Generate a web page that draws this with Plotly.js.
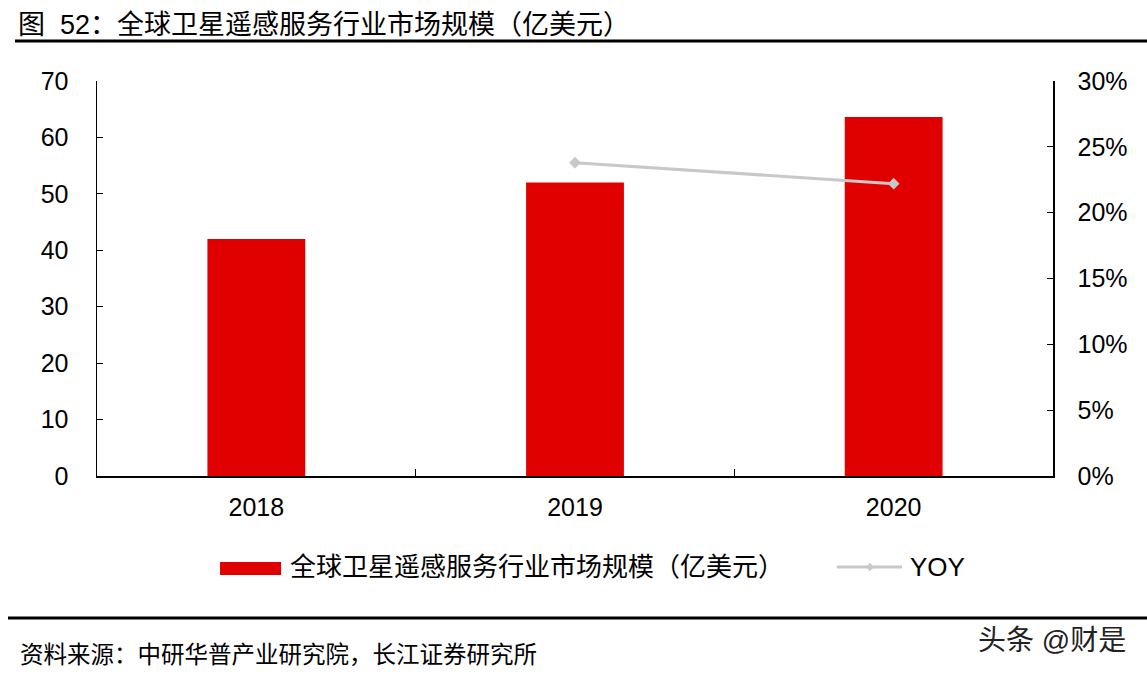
<!DOCTYPE html>
<html>
<head>
<meta charset="utf-8">
<script src="https://cdn.plot.ly/plotly-3.0.1.min.js"></script>
<style>html,body{margin:0;padding:0;background:#fff;}#chart{width:1147px;height:677px;}</style>
</head>
<body>
<div id="chart"></div>
<script>
const categories = ['2018', '2019', '2020'];
const marketSize = [42, 52, 63.6];
const yoy = [null, 0.238, 0.222];
const barName = '全球卫星遥感服务行业市场规模（亿美元）';
const lineName = 'YOY';
const titleText = '图\u00A0\u00A052：全球卫星遥感服务行业市场规模（亿美元）';
const sourceText = '资料来源：中研华普产业研究院，长江证券研究所';
const watermarkText = '头条 @财是';

const FONT = 'Liberation Sans, Arial, Noto Sans CJK SC, sans-serif';
const CJK = 'Liberation Sans, Noto Sans CJK SC, sans-serif';

const traces = [
  {
    type: 'bar', x: categories, y: marketSize, name: barName,
    marker: {color: '#E10000'}, width: 0.307, showlegend: false, hoverinfo: 'x+y'
  },
  {
    type: 'scatter', mode: 'lines+markers', x: categories, y: yoy, name: lineName, yaxis: 'y2',
    line: {color: '#C8C8C8', width: 3}, marker: {symbol: 'diamond', size: 9, color: '#C8C8C8'},
    showlegend: false, connectgaps: false
  }
];

const layout = {
  width: 1147, height: 677,
  margin: {l: 97, r: 94, t: 81, b: 201},
  paper_bgcolor: '#fff', plot_bgcolor: '#fff',
  font: {family: FONT, size: 25, color: '#000'},
  title: {
    text: titleText, x: 18/1147, xanchor: 'left', xref: 'container',
    y: 1 - 25/677, yanchor: 'middle', yref: 'container',
    font: {family: CJK, size: 27, color: '#000'}
  },
  xaxis: {
    type: 'category', showline: true, linecolor: '#000', linewidth: 1.5,
    ticks: 'inside', tickson: 'boundaries', ticklen: 7, tickcolor: '#000', tickwidth: 1.2,
    showgrid: false, zeroline: false, ticklabelstandoff: 8,
    tickfont: {family: FONT, size: 25, color: '#000'}
  },
  yaxis: {
    range: [0, 70], dtick: 10, showline: true, linecolor: '#000', linewidth: 1.5,
    ticks: 'inside', ticklen: 6, tickcolor: '#000', tickwidth: 1.2,
    showgrid: false, zeroline: false, ticklabelstandoff: 22,
    tickfont: {family: FONT, size: 25, color: '#000'}
  },
  yaxis2: {
    range: [0, 0.30], dtick: 0.05, tickformat: '.0%', overlaying: 'y', side: 'right',
    showline: true, linecolor: '#000', linewidth: 1.5,
    ticks: 'inside', ticklen: 6, tickcolor: '#000', tickwidth: 1.2,
    showgrid: false, zeroline: false, ticklabelstandoff: 18,
    tickfont: {family: FONT, size: 25, color: '#000'}
  },
  showlegend: false,
  shapes: [
    {type: 'line', xref: 'paper', yref: 'paper', x0: -0.0858, x1: 1.1982, y0: 1.1013, y1: 1.1013, line: {color: '#000', width: 3}},
    {type: 'line', xref: 'paper', yref: 'paper', x0: -0.0931, x1: 1.1982, y0: -0.3595, y1: -0.3595, line: {color: '#000', width: 3}},
    {type: 'rect', xref: 'paper', yref: 'paper', x0: 0.1287, x1: 0.1925, y0: -0.2177, y1: -0.2506, fillcolor: '#E10000', line: {width: 0}},
    {type: 'line', xref: 'paper', yref: 'paper', x0: 0.774, x1: 0.842, y0: -0.2304, y1: -0.2304, line: {color: '#C8C8C8', width: 3}},
    {type: 'path', xref: 'paper', yref: 'paper', path: 'M0.8086,-0.2199 L0.8128,-0.2304 L0.8086,-0.2409 L0.8044,-0.2304 Z', fillcolor: '#C8C8C8', line: {width: 0}}
  ],
  annotations: [
    {xref: 'paper', yref: 'paper', x: 0.1998, y: -0.2304, xanchor: 'left', yanchor: 'middle', showarrow: false,
     text: barName, font: {family: CJK, size: 26, color: '#000'}},
    {xref: 'paper', yref: 'paper', x: 0.8483, y: -0.2304, xanchor: 'left', yanchor: 'middle', showarrow: false,
     text: lineName, font: {family: FONT, size: 26, color: '#000'}},
    {xref: 'paper', yref: 'paper', x: -0.0826, y: -0.4532, xanchor: 'left', yanchor: 'middle', showarrow: false,
     text: sourceText, font: {family: CJK, size: 23.5, color: '#000'}},
    {xref: 'paper', yref: 'paper', x: 1.0785, y: -0.4152, xanchor: 'right', yanchor: 'middle', showarrow: false,
     text: watermarkText, font: {family: CJK, size: 28, color: '#222'}}
  ]
};

Plotly.newPlot('chart', traces, layout, {displayModeBar: false, staticPlot: true});
</script>
</body>
</html>
